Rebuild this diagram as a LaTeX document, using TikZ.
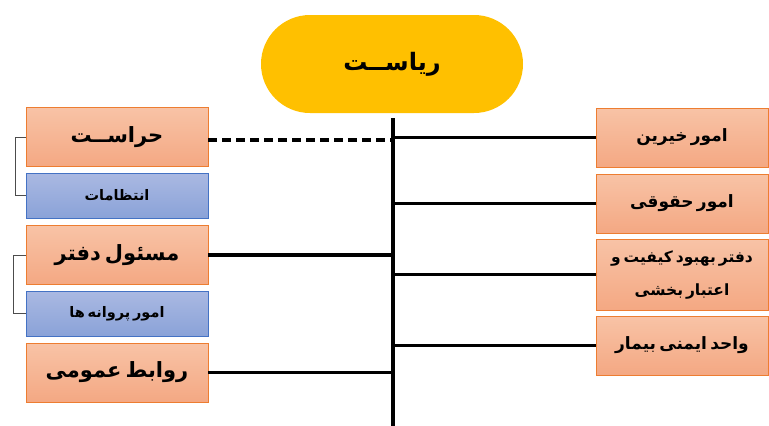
\documentclass[tikz,border=0pt]{standalone}
\usepackage{fontspec}
\newfontfamily\farsi[Script=Arabic,WordSpace=0.55]{DejaVu Sans}
\TeXXeTstate=1
\usetikzlibrary{positioning}
\definecolor{gold}{HTML}{FFC000}
\definecolor{orangetop}{HTML}{F8C3A6}
\definecolor{orangebot}{HTML}{F4A883}
\definecolor{orangeline}{HTML}{ED7D31}
\definecolor{bluetop}{HTML}{AAB9E2}
\definecolor{bluebot}{HTML}{8AA2D8}
\definecolor{blueline}{HTML}{4472C4}
\tikzset{unitbox/.style={
            draw=orangeline,
            top color=orangetop,
            bottom color=orangebot,
            line width=0.8pt,
            inner sep=0pt,
            minimum height=59pt,
            font=\farsi\bfseries\fontsize{17}{33}\selectfont
        },
        mainbox/.style={
            unitbox,
            minimum width=182pt,
            font=\farsi\bfseries\fontsize{21}{26}\selectfont
        },
        sidebox/.style={
            unitbox,
            minimum width=172pt
        },
        subbox/.style={
            draw=blueline,
            top color=bluetop,
            bottom color=bluebot,
            line width=0.8pt,
            inner sep=0pt,
            minimum width=182pt,
            minimum height=45pt,
            font=\farsi\bfseries\fontsize{14.5}{18}\selectfont
        },
        headbox/.style={
            fill=gold,
            rounded corners=49pt,
            minimum width=262pt,
            minimum height=98pt,
            font=\farsi\bfseries\fontsize{24}{28}\selectfont
        },
        link/.style={
            line width=3.2pt,
            black
        },
        bracket/.style={
            line width=0.9pt,
            black!70
        }
    }

\begin{document}
\begin{tikzpicture}[x=1pt,y=-1pt]
        \useasboundingbox (0,0) rectangle (769,426);

        \node[headbox] at (392,64) (head) {\beginR ریاســت\endR};
        \coordinate (trunktop) at (393,118);
        \coordinate (trunkbot) at (393,426);
        \draw[link] (trunktop) -- (trunkbot);

        % left column
        \node[mainbox] at (117,137) (haraasat) {\beginR حراســت\endR};
        \node[subbox] at (117,195.5) (entezamat) {\beginR انتظامات\endR};
        \node[mainbox] at (117,255) (masoul) {\beginR مسئول دفتر\endR};
        \node[subbox] at (117,313.5) (parvaneh) {\beginR امور پروانه ها\endR};
        \node[mainbox] at (117,372.5) (ravabet) {\beginR روابط عمومی\endR};

        \draw[bracket] (haraasat.west) -- ++(-10,0) |- (entezamat.west);
        \draw[bracket] (masoul.west) -- ++(-12,0) |- (parvaneh.west);

        \draw[link,dash pattern=on 9pt off 5pt] ([yshift=-3pt]haraasat.east) -- ([yshift=-3pt]haraasat.east -| trunktop);
        \draw[link] (masoul.east) -- (masoul.east -| trunktop);
        \draw[link] (ravabet.east) -- (ravabet.east -| trunktop);

        % right column
        \node[sidebox] at (682,137.5) (kheyrin) {\beginR امور خیرین\endR};
        \node[sidebox] at (682,203.5) (hoghoghi) {\beginR امور حقوقی\endR};
        \node[sidebox,minimum height=71pt,align=center,font=\farsi\bfseries\fontsize{15.5}{33}\selectfont] at (682,274.5) (behbood)
            {\beginR دفتر بهبود کیفیت و\endR\\\beginR اعتبار بخشی\endR};
        \node[sidebox] at (682,345.5) (imeni) {\beginR واحد ایمنی بیمار\endR};

        \foreach \unit in {kheyrin,hoghoghi,behbood,imeni}
            \draw[link] (\unit.west) -- (\unit.west -| trunktop);

    \end{tikzpicture}
\end{document}
